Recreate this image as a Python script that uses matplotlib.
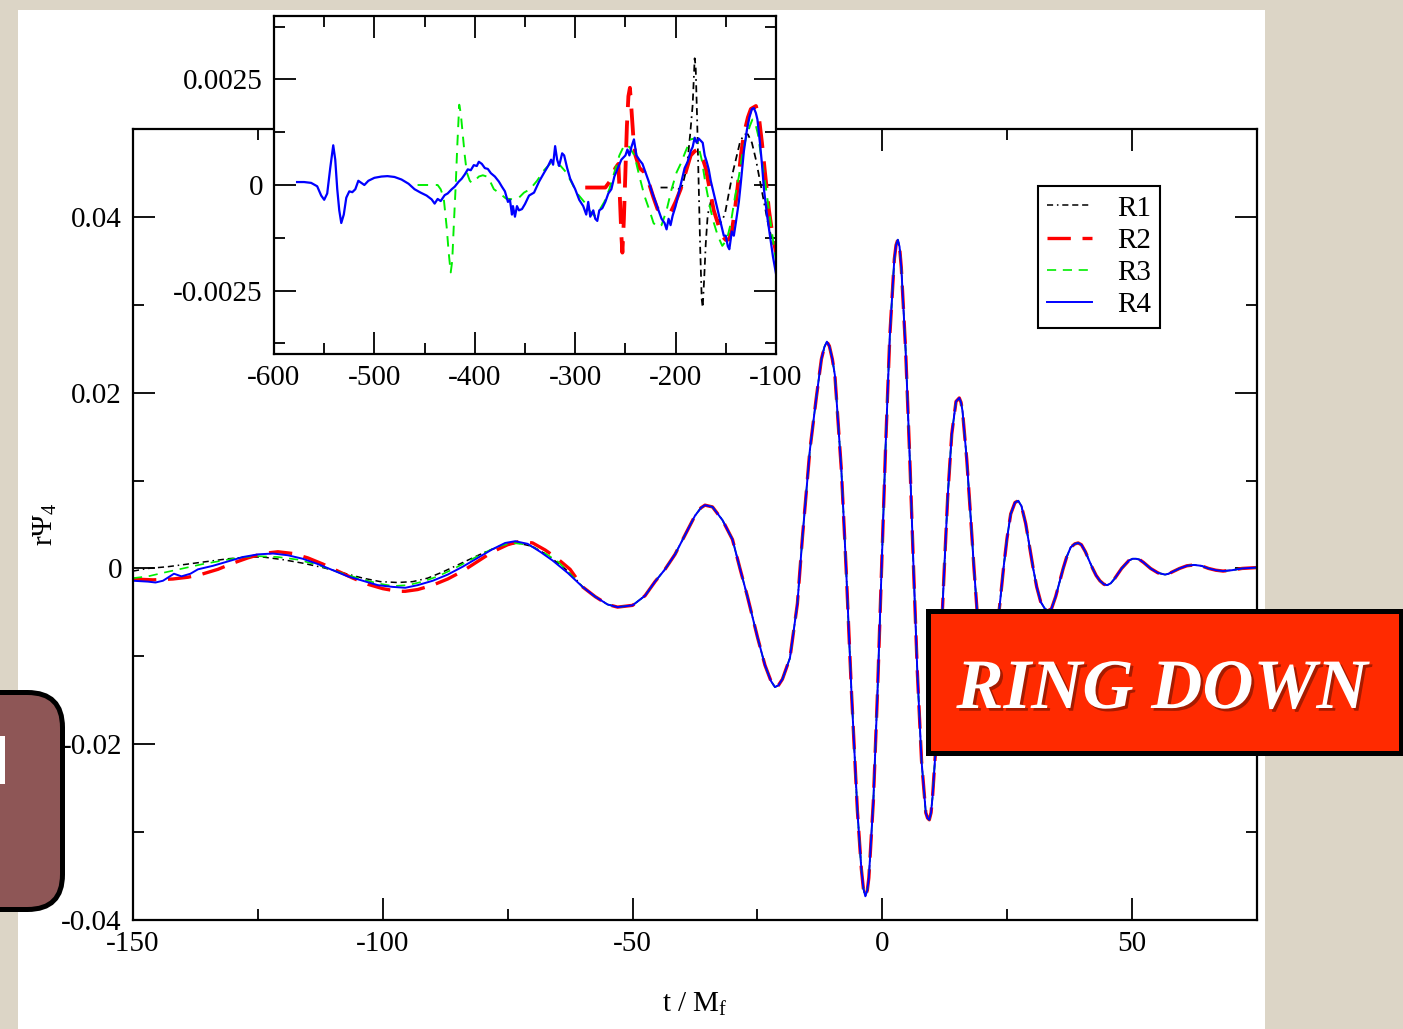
import numpy as np
import matplotlib
matplotlib.use('Agg')
import matplotlib.pyplot as plt
from matplotlib.patches import Rectangle, FancyBboxPatch
from matplotlib.ticker import FixedLocator
import matplotlib.patheffects as pe

plt.rcParams['font.family'] = ['Liberation Serif', 'DejaVu Serif']
plt.rcParams['mathtext.fontset'] = 'custom'
plt.rcParams['mathtext.rm'] = 'Liberation Serif'
plt.rcParams['mathtext.it'] = 'Liberation Serif:italic'
plt.rcParams['axes.unicode_minus'] = False

labels = ['R1', 'R2', 'R3', 'R4']

# early inspiral part of the main panel, one per resolution
early_t_r1 = [-150, -147, -143, -139, -135, -131, -127, -124, -120, -116, -112, -108, -104, -100.5,
              -97, -94, -91, -88, -85, -82, -79, -76, -73, -70, -67, -64, -62]
early_y_r1 = [-0.0003, 0.0, 0.0002, 0.0005, 0.0008, 0.0011, 0.0013, 0.0013, 0.0010, 0.0006, 0.0001,
              -0.0005, -0.0011, -0.0015, -0.0016, -0.0015, -0.0011, -0.0004, 0.0004, 0.0012, 0.0020,
              0.0026, 0.0029, 0.0025, 0.0015, 0.0002, -0.0008]
early_t_r2 = [-150, -146, -142, -139, -136.5, -133, -130, -127, -124, -121, -118, -115, -112, -109,
              -106, -103, -100, -97, -95.5, -93, -90, -87, -84, -81, -78, -75, -72.5, -70, -67.5,
              -65, -62.5]
early_y_r2 = [-0.0012, -0.0013, -0.0012, -0.0010, -0.0007, -0.0001, 0.0006, 0.0012, 0.0017, 0.0019,
              0.0017, 0.0012, 0.0005, -0.0003, -0.0011, -0.0018, -0.0023, -0.0026, -0.0026, -0.0024,
              -0.0019, -0.0012, -0.0003, 0.0008, 0.0019, 0.0027, 0.0031, 0.0029, 0.0021, 0.0011,
              -0.0001]
early_t_r3 = [-150, -147, -144, -140, -136, -132, -128, -125, -121, -117, -113, -109, -105, -101,
              -98, -95, -92, -89, -86, -83, -80, -77, -74, -71, -68, -65, -62.5]
early_y_r3 = [-0.0011, -0.0009, -0.0005, 0.0, 0.0005, 0.0009, 0.0013, 0.0014, 0.0013, 0.0010, 0.0004,
              -0.0004, -0.0011, -0.0017, -0.0020, -0.0019, -0.0015, -0.0009, -0.0001, 0.0008, 0.0017,
              0.0025, 0.0029, 0.0027, 0.0019, 0.0008, -0.0006]
early_t_r4 = [-150, -147, -145.5, -144, -141.8, -140.3, -138.5, -137, -134, -131, -128, -125, -122,
              -119, -116, -113, -110, -107, -104, -101, -98, -95.5, -93, -90, -87, -84, -81, -78,
              -75.5, -73.5, -71, -68.5, -66, -63]
early_y_r4 = [-0.0014, -0.0015, -0.0016, -0.0014, -0.0006, -0.0009, -0.0006, -0.0001, 0.0003, 0.0008,
              0.0013, 0.0016, 0.0017, 0.0015, 0.0011, 0.0005, -0.0002, -0.0009, -0.0014, -0.0019,
              -0.0021, -0.0022, -0.0019, -0.0014, -0.0007, 0.0002, 0.0012, 0.0022, 0.0029, 0.0031,
              0.0028, 0.0019, 0.0009, -0.0005]

# merger and ringdown, where all resolutions agree
merge_t = [-60, -57.5, -55, -53, -50, -47.5, -45.5, -43.5, -41.5, -39.5, -37.5, -36.3, -35.5, -34,
           -32, -30, -28.5, -27, -25, -23.5, -22.3, -21.5, -20.8, -20, -18.5, -17, -16, -14.5,
           -13.2, -12.2, -11.6, -11.1, -10.6, -10.0, -9.5, -8.2, -7.25, -6.2, -5, -4.2, -3.8, -3.4,
           -3.0, -2.7, -1.8, -0.95, -0.15, 0.65, 1.5, 2.4, 2.75, 3.1, 3.45, 3.8, 4.65, 5.5, 6.25,
           7.0, 7.85, 8.7, 9.05, 9.4, 9.75, 10.05, 10.9, 11.7, 12.4, 13.1, 13.9, 14.75, 15.4,
           15.75, 16.05, 16.9, 17.65, 18.35, 19.05, 19.8, 20.65, 21.3, 21.95, 22.8, 23.55, 24.25,
           24.95, 25.7, 26.55, 27.2, 27.85, 28.7, 29.5, 30.2, 30.9, 31.7, 32.55, 33.2, 33.85,
           34.7, 35.5, 36.2, 36.9, 37.7, 38.55, 39.2, 39.85, 40.65, 41.4, 42.1, 42.8, 43.55,
           44.35, 45.0, 45.7, 46.45, 47.9, 49.35, 50.1, 50.8, 51.5, 52.25, 53.7, 55.15, 56.6,
           57.3, 58.05, 59.5, 60.95, 62.4, 63.85, 65.3, 66.75, 68.2, 70, 72, 75]
merge_y = [-0.0021, -0.0032, -0.0041, -0.0044, -0.0042, -0.0031, -0.0015, -0.0001, 0.0016, 0.0038,
           0.0060, 0.0069, 0.0072, 0.0070, 0.0055, 0.0033, 0.0, -0.0032, -0.0078, -0.0110,
           -0.0128, -0.0135, -0.0133, -0.0126, -0.0102, -0.0040, 0.0035, 0.0135, 0.0195, 0.0238,
           0.0252, 0.0258, 0.0253, 0.0238, 0.0220, 0.0112, 0.0, -0.0138, -0.0275, -0.0342,
           -0.0364, -0.0373, -0.0366, -0.0352, -0.0265, -0.0138, 0.0, 0.0138, 0.0265, 0.0352,
           0.0368, 0.0374, 0.0366, 0.0342, 0.0250, 0.0124, 0.0, -0.0117, -0.0219, -0.0278,
           -0.0284, -0.0286, -0.0278, -0.0260, -0.0186, -0.0090, 0.0, 0.0083, 0.0153, 0.0190,
           0.0194, 0.0189, 0.0179, 0.0124, 0.0061, 0.0, -0.0055, -0.0099, -0.0122, -0.0124,
           -0.0112, -0.0078, -0.0039, 0.0, 0.0034, 0.0062, 0.0075, 0.0077, 0.0071, 0.0051,
           0.0024, 0.0, -0.0021, -0.0038, -0.0046, -0.0048, -0.0046, -0.0032, -0.0015, 0.0,
           0.0013, 0.0024, 0.0028, 0.0029, 0.0027, 0.0019, 0.0009, 0.0, -0.0008, -0.0014,
           -0.0018, -0.0019, -0.0017, -0.0012, 0.0, 0.0009, 0.0011, 0.0011, 0.0010, 0.0007, 0.0,
           -0.0005, -0.0007, -0.0006, -0.0004, 0.0, 0.0003, 0.0004, 0.0003, 0.0, -0.0002, -0.0003,
           -0.0002, 0.0, 0.0001]

# inset: early part of the signal with the junk radiation pulses
ins_t_r1 = [-215, -205, -200, -196, -193, -190, -188, -185.5, -183, -181, -180, -178.5, -177, -175.5,
            -174, -173, -171.5, -170, -168, -165, -162, -159, -155, -151, -147, -143, -140, -136,
            -132, -128, -124, -120, -116, -112, -108, -104, -100]
ins_y_r1 = [-0.00006, -0.00006, -0.00006, -0.0001, 0.0, 0.0003, 0.0006, 0.0012, 0.0019, 0.003,
            0.0028, 0.0015, 0.0, -0.0015, -0.0027, -0.0029, -0.0022, -0.0014, -0.0007, -0.0004,
            -0.0006, -0.0008, -0.00089, -0.0007, -0.0002, 0.0003, 0.0006, 0.001, 0.0012, 0.0012,
            0.001, 0.0006, 0.0001, -0.0004, -0.0009, -0.0013, -0.0016]
ins_t_r2 = [-290, -280, -270, -265, -260, -257, -255.5, -254, -253, -251.5, -250, -248.5, -247,
            -245.5, -244, -242, -240, -236, -231, -226, -222, -218, -213, -208, -205, -200, -195,
            -190, -185, -181, -178, -174, -170, -166, -162, -158, -154, -150, -147, -144, -141,
            -138, -135, -132, -128, -125, -120, -117, -114, -111, -107, -104, -100]
ins_y_r2 = [-0.00006, -0.00006, -0.00006, 0.0001, 0.0004, 0.0005, -0.0003, -0.0012, -0.0016, -0.0008,
            0.0003, 0.0014, 0.0021, 0.0023, 0.0018, 0.0011, 0.0007, 0.0004, 0.0003, 0.0, -0.0003,
            -0.00057, -0.0006, -0.00065, -0.00065, -0.0004, -0.0001, 0.0003, 0.0007, 0.0008,
            0.00084, 0.0007, 0.0004, -0.0001, -0.0006, -0.0009, -0.0012, -0.0013, -0.00129,
            -0.0011, -0.0006, 0.0, 0.0007, 0.0012, 0.0016, 0.0018, 0.00187, 0.0016, 0.001, 0.0003,
            -0.0006, -0.0011, -0.0016]
ins_t_r3 = [-457, -450, -443, -437, -434, -431, -428, -426, -424, -422.5, -421, -419, -417.5, -415.5,
            -414, -412, -410, -408, -405, -403, -400, -396, -392, -388, -385, -381, -375, -369,
            -362, -356, -351, -345, -338, -331, -324, -319, -314.5, -309, -304.5, -298, -291, -286,
            -281, -276, -271, -266, -261, -256, -251, -246, -241, -236, -231, -226, -222, -218,
            -214, -209, -204, -199, -195, -190, -185, -181, -178, -174, -170, -166, -162, -158,
            -153.5, -149, -145, -141, -137, -133, -130, -126, -123.5, -121, -118, -115, -111, -107,
            -103, -100]
ins_y_r3 = [0.0, 0.0, 0.0, 0.0, -0.0001, -0.0003, -0.001, -0.0016, -0.00207, -0.0018, -0.001, 0.0,
            0.0009, 0.0019, 0.0017, 0.0012, 0.0007, 0.0003, 0.0001, 0.00005, 0.0001, 0.0002,
            0.00023, 0.0002, 0.0001, -0.0001, -0.0002, -0.00032, -0.00034, -0.0003, -0.00018,
            -0.0001, 0.0001, 0.00035, 0.00053, 0.0005, 0.00045, 0.0003, 0.0001, -0.0002, -0.0004,
            -0.0006, -0.00073, -0.0006, -0.0004, -0.0001, 0.0003, 0.0007, 0.00095, 0.0009, 0.0007,
            0.0002, -0.00026, -0.0006, -0.0009, -0.001, -0.00095, -0.0006, -0.0001, 0.0003,
            0.0005, 0.0008, 0.00108, 0.0011, 0.001, 0.0006, 0.0, -0.0005, -0.00089, -0.0012,
            -0.00144, -0.0013, -0.0009, -0.0003, 0.0002, 0.0008, 0.0011, 0.0014, 0.00155, 0.0015,
            0.0012, 0.0007, 0.0001, -0.0006, -0.0013, -0.0018]
ins_t_r4 = [-577, -570, -563, -557, -553, -550, -547, -544, -541, -539, -537, -535, -533, -530.5,
            -528, -525, -522, -519, -516, -513, -510, -506, -500, -493, -487, -480, -473, -466,
            -460, -454, -448, -443, -440, -437, -434, -430, -427, -423, -420, -416, -413, -410,
            -407, -404, -401, -398, -396, -393, -390, -387, -384, -380, -376, -373, -370, -367,
            -365, -363, -362, -360, -358, -356, -353, -350, -346, -341, -336, -331, -327, -324,
            -322, -320, -318, -316, -313, -311, -308, -305, -300, -296, -292, -289, -287, -285,
            -282, -280, -278, -276, -273, -270, -267, -264, -261, -258, -254, -250, -248, -246,
            -244, -241.5, -239, -236, -233, -230, -227, -223, -220, -217, -214, -211, -209, -207,
            -205, -203, -200, -197, -194, -191, -188, -185, -183, -181, -179, -177, -175, -173,
            -171, -169, -167, -165, -163, -161, -158, -155, -152, -150, -148, -146.5, -144, -142,
            -140, -137, -135, -132, -129, -126.5, -124, -122, -120, -118.5, -116, -114, -112, -109,
            -106, -103, -100]
ins_y_r4 = [0.00007, 0.00007, 0.00005, -0.00003, -0.00025, -0.00035, -0.0002, 0.0004, 0.00094, 0.0006,
            -0.0001, -0.0006, -0.0009, -0.0007, -0.0003, -0.00015, -0.00017, -0.0001, 0.0001,
            0.00005, 0.0, 0.0001, 0.00017, 0.0002, 0.00021, 0.00019, 0.00013, 0.00003, -0.0001,
            -0.00018, -0.00025, -0.00034, -0.00044, -0.00033, -0.00038, -0.00024, -0.0002, -0.0001,
            -0.00004, 0.00008, 0.00015, 0.00025, 0.00037, 0.00035, 0.00047, 0.00045, 0.00055,
            0.0005, 0.0004, 0.00038, 0.00028, 0.0002, 0.00008, -0.00004, -0.00015, -0.0004,
            -0.00035, -0.0007, -0.0005, -0.00075, -0.0005, -0.0006, -0.00057, -0.00045, -0.00025,
            -0.00018, 0.00008, 0.00029, 0.00045, 0.0006, 0.00048, 0.00092, 0.0006, 0.00045,
            0.00075, 0.0007, 0.0004, 0.00015, -0.0001, -0.00035, -0.0005, -0.0007, -0.0004,
            -0.00075, -0.0006, -0.0008, -0.00085, -0.0006, -0.00055, -0.0004, -0.0002, -0.0001,
            0.0002, 0.00037, 0.0006, 0.0007, 0.00084, 0.0007, 0.0009, 0.00108, 0.0007, 0.00059,
            0.0005, 0.0003, 0.0001, -0.0002, -0.0004, -0.0006, -0.0008, -0.0009, -0.00105, -0.0008,
            -0.00095, -0.00073, -0.0005, -0.0002, 0.0001, 0.0004, 0.00055, 0.0008, 0.0009, 0.00112,
            0.001, 0.0011, 0.00105, 0.001, 0.0007, 0.00055, 0.00037, 0.0001, -0.0001, -0.0003,
            -0.0006, -0.00089, -0.0012, -0.0012, -0.00145, -0.00152, -0.0011, -0.0012, -0.00089,
            -0.0004, 0.00006, 0.0008, 0.0013, 0.0016, 0.0018, 0.00182, 0.0017, 0.00155, 0.001,
            0.0005, -0.0001, -0.0007, -0.0012, -0.0017, -0.0021]

main_xticks = [-150, -100, -50, 0, 50]
main_xlabels = ['-150', '-100', '-50', '0', '50']
main_yticks = [-0.04, -0.02, 0, 0.02, 0.04]
main_ylabels = ['-0.04', '-0.02', '0', '0.02', '0.04']
ins_xticks = [-600, -500, -400, -300, -200, -100]
ins_xlabels = ['-600', '-500', '-400', '-300', '-200', '-100']
ins_yticks = [-0.0025, 0, 0.0025]
ins_ylabels = ['-0.0025', '0', '0.0025']

styles = [
    dict(color='black', lw=1.1, dashes=(4, 2.5, 1, 2.5, 4, 2.5, 4, 2.5)),
    dict(color='#FF0000', lw=2.4, dashes=(7, 3.5)),
    dict(color='#00EE00', lw=1.2, dashes=(5.5, 4)),
    dict(color='#0000FF', lw=1.4),
]

W, H = 14.03, 10.29
fig = plt.figure(figsize=(W, H), dpi=100)
fig.patch.set_facecolor('#DCD5C6')

# white slide panel (inches from lower left)
fig.add_artist(Rectangle((0.18, 0), 12.47, H - 0.10, transform=fig.dpi_scale_trans,
                         facecolor='white', edgecolor='none', zorder=-1))


def style_axes(a):
    for s in a.spines.values():
        s.set_linewidth(1.6)
    a.tick_params(which='both', direction='in', top=True, right=True, width=1.3, labelsize=21)
    a.tick_params(which='major', length=16, pad=8)
    a.tick_params(which='minor', length=8)


# main panel
ax = fig.add_axes([133 / 1403, 1 - 920 / 1029, 1124 / 1403, 791 / 1029])
early_t = [early_t_r1, early_t_r2, early_t_r3, early_t_r4]
early_y = [early_y_r1, early_y_r2, early_y_r3, early_y_r4]
for et, ey, st, lab in zip(early_t, early_y, styles, labels):
    ax.plot(np.concatenate([et, merge_t]), np.concatenate([ey, merge_y]), label=lab, **st)
ax.set_xlim(-150, 75)
ax.set_ylim(-0.04, 0.05)
ax.set_xticks(main_xticks)
ax.set_xticklabels(main_xlabels)
ax.set_yticks(main_yticks)
ax.set_yticklabels(main_ylabels)
ax.xaxis.set_minor_locator(FixedLocator([-125, -75, -25, 25]))
ax.yaxis.set_minor_locator(FixedLocator([-0.03, -0.01, 0.01, 0.03]))
style_axes(ax)
ax.set_xlabel(r't / M$_\mathrm{f}$', fontsize=21)
ax.xaxis.set_label_coords(0.5, -0.107)
ax.xaxis.label.set_va('center')
ax.set_ylabel(r'r$\mathrm{\Psi}_{4}$', fontsize=21)
ax.yaxis.set_label_coords(-0.078, 0.5)
ax.yaxis.label.set_va('center')

leg = ax.legend(loc='upper left', bbox_to_anchor=(0.805, 0.928), borderaxespad=0,
                fancybox=False, edgecolor='black', framealpha=1, fontsize=21,
                handlelength=1.55, handletextpad=0.85, labelspacing=0.2, borderpad=0.32)
leg.get_frame().set_linewidth(1.5)

# inset panel
ins = fig.add_axes([274 / 1403, 1 - 354 / 1029, 502 / 1403, 338 / 1029])
ins_t = [ins_t_r1, ins_t_r2, ins_t_r3, ins_t_r4]
ins_y = [ins_y_r1, ins_y_r2, ins_y_r3, ins_y_r4]
for tt, yy, st in zip(ins_t, ins_y, styles):
    kw = dict(st)
    kw['lw'] = st['lw'] * 1.15
    ins.plot(tt, yy, **kw)
ins.set_xlim(-600, -100)
ins.set_ylim(-0.004, 0.004)
ins.set_xticks(ins_xticks)
ins.set_xticklabels(ins_xlabels)
ins.set_yticks(ins_yticks)
ins.set_yticklabels(ins_ylabels)
ins.xaxis.set_minor_locator(FixedLocator([-550, -450, -350, -250, -150]))
ins.yaxis.set_minor_locator(FixedLocator([-0.00375, -0.00125, 0.00125, 0.00375]))
style_axes(ins)

# slide decorations on top of the plot
fig.add_artist(FancyBboxPatch((-0.6, 1.195), 1.225, 2.17,
                              boxstyle='round,pad=0,rounding_size=0.35',
                              transform=fig.dpi_scale_trans, facecolor='#8E5656',
                              edgecolor='black', lw=3.6, zorder=10))
# edge of a white letter sticking out of the maroon box
fig.add_artist(Rectangle((0.0, H - 7.84), 0.05, 0.48, transform=fig.dpi_scale_trans,
                         facecolor='white', edgecolor='none', zorder=11))

fig.add_artist(Rectangle((9.275, 2.765), 4.73, 1.42, transform=fig.dpi_scale_trans,
                         facecolor='#FF2A00', edgecolor='black', lw=3.6, zorder=10))
fig.text(11.62, H - 7.08, 'RING DOWN', transform=fig.dpi_scale_trans, ha='center',
         va='baseline', color='white', fontsize=51, fontweight='bold', fontstyle='italic',
         zorder=11,
         path_effects=[pe.SimplePatchShadow(offset=(2, -2), shadow_rgbFace='black', alpha=0.35),
                       pe.Normal()])

fig.savefig('out.png', dpi=100, facecolor=fig.get_facecolor())
